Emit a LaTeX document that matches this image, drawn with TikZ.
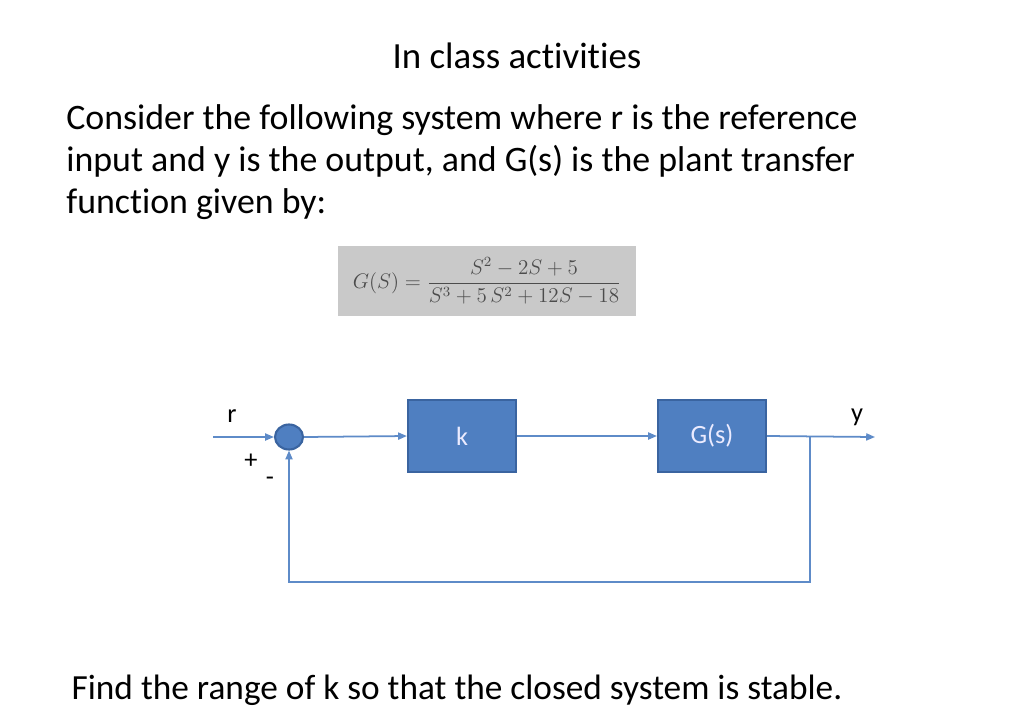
\documentclass[tikz,border=0pt]{standalone}
\usepackage{amsmath}
\usepackage{fontspec}
\setmainfont{Carlito}[Ligatures=NoCommon]
\usetikzlibrary{calc,arrows.meta,shapes.geometric}
\definecolor{boxblue}{HTML}{4F7FC1}
\definecolor{boxedge}{HTML}{3A64A0}
\definecolor{lineblue}{HTML}{5E8BC8}
\definecolor{formgray}{HTML}{C9C9C9}
\tikzset{
  blockbox/.style={draw=boxedge, line width=1.2pt, fill=boxblue, text=white!92!blue,
    minimum width=108*0.02cm, minimum height=72*0.02cm, font=\fontsize{15}{18}\selectfont},
  sumnode/.style={ellipse, draw=boxedge, line width=1.2pt, fill=boxblue,
    minimum width=28*0.02cm, minimum height=25*0.02cm, inner sep=0pt},
  sigline/.style={draw=lineblue, line width=1pt},
  sigarrow/.style={sigline, -{Triangle[length=5pt,width=4pt]}},
  smalltext/.style={font=\fontsize{15}{18}\selectfont},
  bigtext/.style={font=\fontsize{20.4}{24.1}\selectfont, inner sep=0pt}
}
\begin{document}
\begin{tikzpicture}[x=0.02cm, y=-0.02cm]
            \useasboundingbox[fill=white] (0,0) rectangle (1020,727);
            % Tiêu đề và đề bài
            \node[bigtext, font=\fontsize{21}{25}\selectfont] (title) at (517,56) {In class activities};
            \node[bigtext, anchor=north west, align=left] (task) at (66,104)
              {Consider the following system where r is the reference\\
               input and y is the output, and G(s) is the plant transfer\\
               function given by:};
            % Hàm truyền
            \node[fill=formgray, minimum width=298*0.02cm, minimum height=70*0.02cm,
              text=black!70, inner sep=0pt] (formula) at (487,281)
              {\fontsize{11.5}{13}\selectfont$G(S)=\dfrac{S^2-2S+5}{S^3+5\,S^2+12S-18}$};
            % Các khối
            \node[sumnode] (sum) at (289,437) {};
            \node[blockbox] (K) at (462,436) {k};
            \node[blockbox] (G) at (712,436) {G(s)};
            % Các điểm
            \coordinate (rin) at (213,437);
            \coordinate (yout) at (875,437);
            \coordinate (B) at (810,437);
            \coordinate (D1) at (810,582);
            \coordinate (D2) at (289,582);
            % Đường tín hiệu
            \draw[sigarrow] (rin) -- (sum.west);
            \draw[sigarrow] (sum.east) -- (K.west);
            \draw[sigarrow] (K.east) -- (G.west);
            \draw[sigarrow] (G.east) -- (yout);
            \draw[sigarrow] (B) -- (D1) -- (D2) -- (sum.south);
            % Nhãn
            \node[smalltext] (rlab) at (232,416) {r};
            \node[smalltext] (plus) at (251,461) {+};
            \node[smalltext] (minus) at (270,481) {-};
            \node[smalltext] (ylab) at (857,417) {y};
            % Câu hỏi
            \node[bigtext, font=\fontsize{20.1}{24}\selectfont] (question) at (457,690)
              {Find the range of k so that the closed system is stable.};
\end{tikzpicture}
\end{document}
